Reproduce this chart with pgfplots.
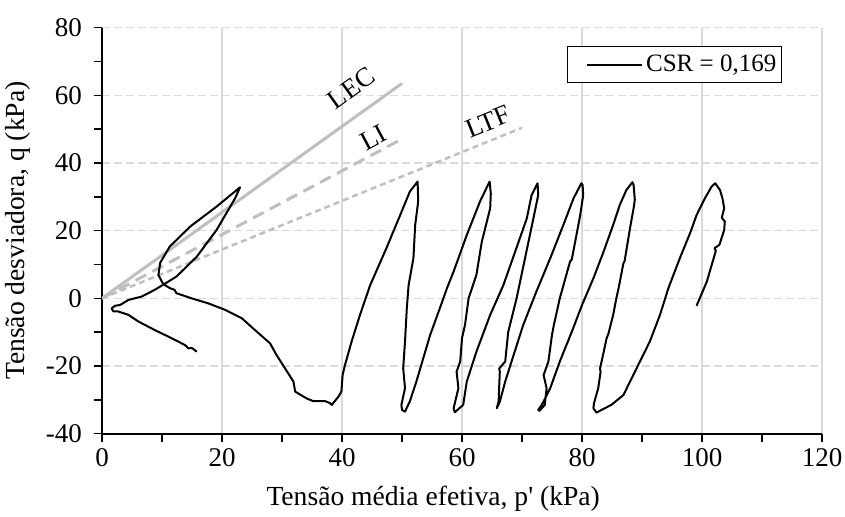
\documentclass[border=0pt]{standalone}
\usepackage{fontspec}
\setmainfont{Liberation Serif}
\usepackage{pgfplots}
\pgfplotsset{compat=1.18}
\definecolor{gridc}{RGB}{217,217,217}
\definecolor{refc}{RGB}{191,191,191}

\begin{document}
\begin{tikzpicture}[font=\fontsize{12.5bp}{15bp}\selectfont]
\begin{axis}[
  scale only axis, width=360bp, height=203bp,
  xmin=0, xmax=120, ymin=-40, ymax=80,
  xtick={0,20,...,120}, ytick={-40,-20,...,80},
  minor x tick num=1, minor y tick num=1,
  axis lines=left, axis line style={-, line width=1bp, black},
  tick align=outside, major tick length=4bp, minor tick length=4bp,
  tick style={black, line width=0.75bp},
  xmajorgrids, ymajorgrids,
  x grid style={gridc, line width=0.75bp},
  y grid style={gridc, line width=0.75bp, dash pattern=on 4bp off 2bp},
  /pgf/number format/assume math mode=true,
  ticklabel style={font=\fontsize{13.5bp}{16bp}\selectfont},
  yticklabel style={xshift=-2.5bp},
  xlabel={Tensão média efetiva, p\textquotesingle{} (kPa)},
  ylabel={Tensão desviadora, q (kPa)},
  label style={font=\fontsize{13.8bp}{16bp}\selectfont},
  xlabel style={at={(axis description cs:0.46,-0.16)}, anchor=center},
  ylabel style={at={(axis description cs:-0.1167,0.5)}, anchor=center},
  legend style={at={(1,1)}, anchor=north east, xshift=-20bp, yshift=-9.2bp,
    draw=black, line width=0.75bp, inner xsep=2.5bp, inner ysep=4bp,
    nodes={inner sep=0pt}, column sep=1.6bp,
    font=\fontsize{12.5bp}{15bp}\selectfont},
  legend image code/.code={\path (0bp,0bp); \draw[#1] (6.7bp,0bp) -- (34.2bp,0bp);},
]
\coordinate (ll) at (rel axis cs:0,0);
\coordinate (ur) at (rel axis cs:1,1);

% reference lines
\addplot[forget plot, refc, line width=1.5bp] coordinates {(0,0) (50,63.5)};
\addplot[forget plot, refc, line width=1.5bp, dash pattern=on 6bp off 3.5bp] coordinates {(0,0) (49.7,46.8)};
\addplot[forget plot, refc, line width=1.25bp, dash pattern=on 3bp off 2bp] coordinates {(0,0) (70,50.4)};

\node[rotate=35.6, font=\fontsize{13.5bp}{16bp}\selectfont] at (axis cs:41.6,62.1) {LEC};
\node[rotate=28, font=\fontsize{13.5bp}{16bp}\selectfont] at (axis cs:45.2,47.4) {LI};
\node[rotate=22.1, font=\fontsize{13.5bp}{16bp}\selectfont] at (axis cs:64.3,52.2) {LTF};

% stress path
\addplot[black, line width=1bp, line join=round] coordinates {
(99.1,-2.2) (100.8,4.9) (102.3,14.0) (102.1,14.8) (102.9,15.8) (103.7,20.2) (103.8,22.7) (103.3,23.8) (103.7,26.6) (103.4,29.6) (103.0,32.0) (102.2,34.0)
(101.6,33.0) (100.5,29.6) (99.1,24.6) (98.0,19.2) (96.3,11.8) (94.4,3.0) (93.0,-4.9) (91.3,-12.8) (89.1,-20.7) (86.9,-28.6) (84.9,-31.5) (82.4,-33.8) (81.9,-32.5) (82.0,-31.0)
(82.7,-26.6) (83.1,-21.7) (83.0,-20.8) (83.6,-16.0) (84.1,-11.8) (84.4,-10.5) (85.2,-4.9) (85.7,-0.2) (86.1,3.0) (86.9,10.3) (87.1,11.0) (88.0,20.7) (88.6,26.6) (88.8,29.1) (88.6,33.5) (88.4,34.3)
(87.4,32.0) (86.3,27.6) (85.2,21.7) (83.6,13.8) (81.9,5.9) (80.0,-2.0) (78.3,-9.9) (76.3,-18.7) (74.7,-26.6) (73.3,-31.5) (72.7,-33.0)
(72.9,-33.3) (73.8,-31.5) (74.1,-26.6) (73.6,-22.7) (74.4,-18.7) (75.0,-10.8) (75.3,-8.0) (76.3,0.0) (78.0,10.8) (78.3,11.5) (79.4,21.7) (79.7,24.6) (80.2,30.5) (80.1,33.5) (79.9,34.0)
(78.6,29.6) (76.9,21.7) (74.7,11.8) (72.4,2.0) (70.2,-7.9) (68.6,-16.8) (67.2,-24.6) (66.3,-30.6) (65.8,-32.5)
(66.1,-30.5) (66.3,-21.7) (66.2,-20.8) (67.2,-18.7) (67.7,-10.0) (69.1,0.0) (70.5,11.8) (71.9,23.6) (72.7,30.5) (72.6,34.0)
(71.6,30.5) (70.8,23.6) (69.3,16.0) (66.9,3.9) (64.7,-4.9) (62.4,-15.8) (60.8,-24.6) (60.2,-31.5) (58.8,-33.7)
(58.6,-32.5) (59.4,-26.6) (59.1,-21.7) (59.7,-18.7) (60.0,-11.8) (60.5,-7.9) (61.1,0.0) (62.4,6.9) (63.3,16.7) (64.7,26.6) (64.8,31.0) (64.6,34.5)
(63.0,28.6) (60.8,18.7) (58.6,7.9) (57.5,3.0) (56.3,-3.0) (54.7,-10.8) (52.4,-24.6) (51.3,-30.5) (50.5,-33.5) (50.0,-33.0)
(49.9,-31.5) (50.5,-26.6) (50.2,-20.7) (50.5,-12.8) (50.8,-3.0) (51.1,3.9) (51.9,11.8) (52.2,21.7) (52.7,28.6) (52.6,34.5)
(51.3,31.5) (49.7,24.6) (47.4,14.8) (44.7,3.9) (43.0,-4.9) (41.6,-12.8) (40.5,-19.7) (40.1,-22.7) (39.9,-27.6) (39.4,-29.1) (38.3,-31.5) (38.0,-31.0) (37.2,-30.4) (35.2,-30.4) (34.1,-29.6) (32.2,-27.6) (31.9,-24.6) (30.5,-20.7) (29.1,-16.8) (28.0,-13.3) (25.5,-9.4) (23.3,-5.9) (20.5,-3.4) (17.7,-1.5) (14.9,0.0) (12.4,1.5) (12.1,2.5) (11.3,3.0) (10.2,4.2)
(9.4,6.9) (9.7,10.5) (11.3,15.3) (14.7,21.2) (19.1,27.1) (23.0,32.8)
(22.2,29.6) (19.1,20.2) (15.8,12.3) (12.4,6.4) (10.2,4.0) (8.8,2.5) (6.6,0.5) (4.4,-0.5) (3.0,-2.0) (2.2,-2.2) (1.6,-3.0) (1.9,-3.9) (2.7,-3.9) (4.4,-4.9) (6.1,-6.9) (8.8,-9.4) (11.6,-11.8) (13.8,-13.8) (14.4,-14.8) (15.0,-14.7) (15.8,-15.8)
};
\addlegendentry{CSR = 0,169}
\end{axis}
\pgfresetboundingbox
\path[use as bounding box] ([shift={(-51bp,-41.65bp)}]ll) rectangle ([shift={(11.5bp,13.8bp)}]ur);
\end{tikzpicture}
\end{document}
